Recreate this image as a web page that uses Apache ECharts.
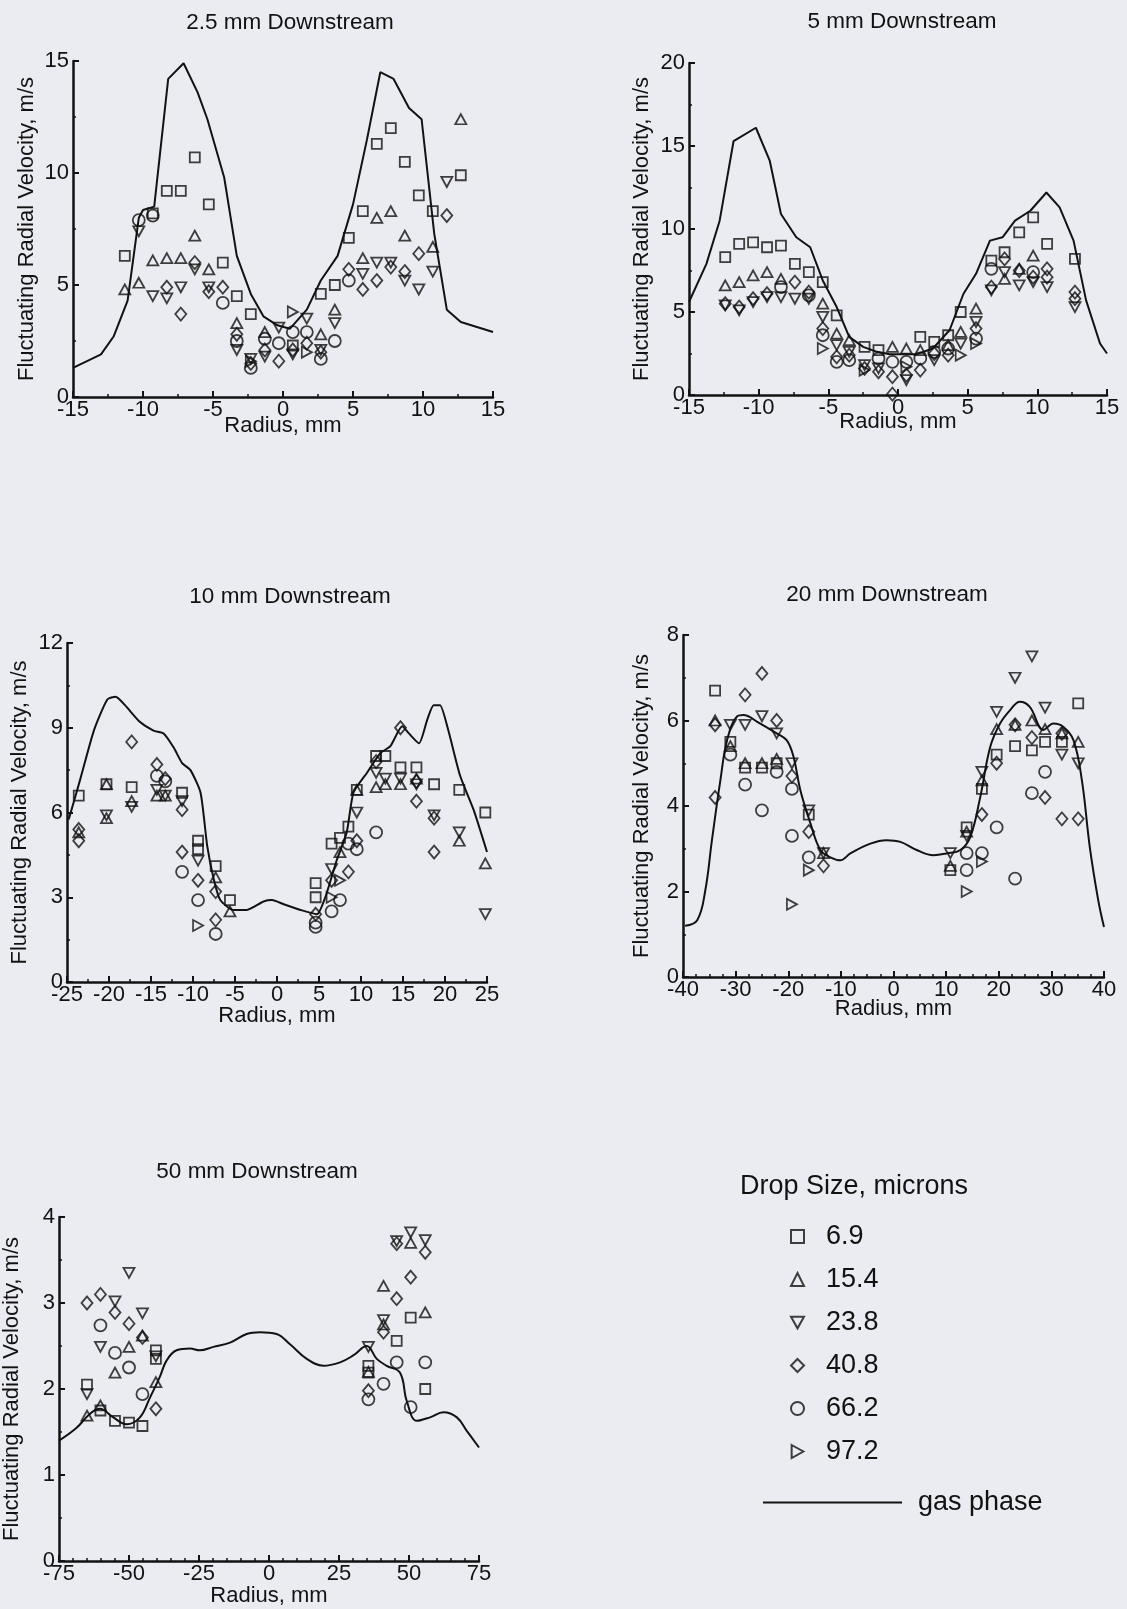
<!DOCTYPE html>
<html>
<head>
<meta charset="utf-8">
<script src="https://cdn.jsdelivr.net/npm/echarts@6/dist/echarts.min.js"></script>
<style>
  html, body { margin: 0; padding: 0; background: #ebecf1; }
  #chart { width: 1127px; height: 1609px; }
</style>
</head>
<body>
<div id="chart"></div>
<script>
// Drop-size classes (microns) shown in the legend
const dropSizes = ['6.9', '15.4', '23.8', '40.8', '66.2', '97.2'];

// ---- 2.5 mm downstream: [radius mm, fluctuating radial velocity m/s]
const p1Gas = [[-15,1.3],[-13,1.9],[-12.1,2.7],[-11.1,4.3],[-10.3,8.0],[-10,8.35],[-9.2,8.5],[-8.2,14.2],[-7.1,14.9],[-6.1,13.6],[-5.4,12.4],[-4.2,9.8],[-3.3,6.3],[-2.3,4.6],[-1.4,3.6],[-0.4,3.2],[0.5,3.05],[1.7,3.9],[2.7,5.2],[3.9,6.3],[5.0,8.6],[6.0,11.5],[6.95,14.5],[7.9,14.2],[9.0,12.9],[9.9,12.4],[10.8,7.3],[11.7,3.9],[12.7,3.35],[15,2.9]];
const p1Sq = [[-11.3,6.3],[-9.3,8.2],[-8.3,9.2],[-7.3,9.2],[-6.3,10.7],[-5.3,8.6],[-4.3,6.0],[-3.3,4.5],[-2.3,3.7],[0.7,2.3],[2.7,4.6],[3.7,5.0],[4.7,7.1],[5.7,8.3],[6.7,11.3],[7.7,12.0],[8.7,10.5],[9.7,9.0],[10.7,8.3],[12.7,9.9]];
const p1Up = [[-11.3,4.8],[-10.3,5.1],[-9.3,6.1],[-8.3,6.2],[-7.3,6.2],[-6.3,7.2],[-5.3,5.7],[-3.3,3.3],[-1.3,2.9],[2.7,2.8],[3.7,3.9],[5.7,6.2],[6.7,8.0],[7.7,8.3],[8.7,7.2],[10.7,6.7],[12.7,12.4]];
const p1Down = [[-10.3,7.4],[-9.3,4.5],[-8.3,4.4],[-7.3,4.9],[-6.3,5.7],[-5.3,4.9],[-3.3,2.1],[-2.3,1.7],[-1.3,1.8],[-0.3,3.1],[0.7,1.9],[1.7,3.5],[2.7,2.1],[3.7,3.3],[5.7,5.5],[6.7,6.0],[7.7,6.0],[8.7,5.2],[9.7,4.8],[10.7,5.6],[11.7,9.6]];
const p1Diamond = [[-8.3,4.9],[-7.3,3.7],[-6.3,6.0],[-5.3,4.7],[-4.3,4.9],[-3.3,2.8],[-2.3,1.5],[-1.3,2.1],[-0.3,1.6],[0.7,2.1],[1.7,2.4],[2.7,2.0],[4.7,5.7],[5.7,4.8],[6.7,5.2],[7.7,5.8],[8.7,5.6],[9.7,6.4],[11.7,8.1]];
const p1Circle = [[-10.3,7.9],[-9.3,8.1],[-4.3,4.2],[-3.3,2.5],[-2.3,1.3],[-1.3,2.6],[-0.3,2.4],[0.7,2.9],[1.7,2.9],[2.7,1.7],[3.7,2.5],[4.7,5.2]];
const p1Right = [[0.7,3.8],[-2.3,1.6],[1.7,2.0]];

// ---- 5 mm downstream
const p2Gas = [[-15,5.6],[-13.75,7.9],[-12.8,10.5],[-11.8,15.3],[-10.2,16.1],[-9.2,14.1],[-8.4,10.9],[-7.3,9.5],[-6.3,8.9],[-5.4,6.9],[-4.4,5.3],[-3.5,3.5],[-2.5,2.9],[-1.5,2.6],[-0.6,2.45],[1.3,2.45],[2.5,2.8],[3.7,3.9],[4.7,6.1],[5.6,7.3],[6.6,9.3],[7.5,9.5],[8.4,10.5],[9.5,11.1],[10.65,12.2],[11.6,11.3],[12.6,9.3],[13.5,5.7],[14.5,3.1],[15,2.5]];
const p2Sq = [[-12.4,8.3],[-11.4,9.1],[-10.4,9.2],[-9.4,8.9],[-8.4,9.0],[-7.4,7.9],[-6.4,7.4],[-5.4,6.8],[-4.4,4.8],[-2.4,2.9],[-1.4,2.7],[1.6,3.5],[2.6,3.2],[3.6,3.6],[4.5,5.0],[6.7,8.1],[7.65,8.6],[8.7,9.8],[9.7,10.7],[10.7,9.1],[12.7,8.2]];
const p2Up = [[-12.4,6.6],[-11.4,6.8],[-10.4,7.2],[-9.4,7.4],[-8.4,7.0],[-5.4,5.5],[-4.4,3.7],[-3.5,3.3],[-0.4,2.9],[0.6,2.8],[1.6,2.7],[3.6,3.0],[4.5,3.8],[5.6,5.2],[7.65,7.0],[8.7,7.6],[9.7,8.4]];
const p2Down = [[-12.4,5.4],[-11.4,5.1],[-10.4,5.6],[-9.4,5.9],[-8.4,5.9],[-7.4,5.8],[-6.4,5.8],[-5.4,4.7],[-4.4,3.0],[-3.5,2.6],[-2.4,1.8],[-1.4,1.6],[0.6,0.9],[2.6,2.1],[4.5,3.1],[5.6,4.4],[6.7,6.3],[7.65,7.4],[8.7,6.6],[9.7,6.8],[10.7,6.5],[12.7,5.3]];
const p2Diamond = [[-12.4,5.5],[-11.4,5.3],[-10.4,5.8],[-9.4,6.1],[-7.4,6.8],[-6.4,6.2],[-5.4,4.0],[-4.4,2.3],[-3.5,2.4],[-2.4,1.6],[-1.4,1.4],[-0.4,1.1],[-0.4,0.05],[0.6,1.2],[1.6,1.5],[2.6,2.5],[3.6,2.4],[5.6,4.0],[6.7,6.5],[7.65,8.2],[8.7,7.5],[9.7,7.1],[10.7,7.6],[10.7,7.1],[12.7,6.2],[12.7,5.8]];
const p2Circle = [[-8.4,6.5],[-6.4,6.0],[-5.4,3.6],[-4.4,2.0],[-3.5,2.1],[-1.4,2.2],[-0.4,2.0],[0.6,2.0],[1.6,2.2],[2.6,2.6],[3.6,2.8],[5.6,3.4],[6.7,7.6],[9.7,7.4]];
const p2Right = [[-5.4,2.8],[-2.4,1.5],[0.6,1.7],[4.5,2.4],[5.6,3.1]];

// ---- 10 mm downstream
const p3Gas = [[-24.8,5.75],[-23.4,7.2],[-21.8,8.9],[-20.2,10.0],[-19.2,10.1],[-18.1,9.8],[-16.3,9.2],[-14.7,8.9],[-13.5,8.8],[-12.3,8.3],[-11.3,7.75],[-10.3,7.5],[-9.1,6.7],[-8.3,4.8],[-7.5,3.6],[-6.75,2.9],[-5.2,2.55],[-3.6,2.55],[-1.6,2.85],[-0.6,2.9],[0.8,2.75],[2.8,2.55],[4.75,2.4],[5.75,3.0],[7.1,4.3],[8.3,5.3],[9.1,6.7],[10.7,7.4],[12.3,8.1],[13.5,8.35],[14.9,9.05],[15.7,8.8],[16.9,8.45],[17.9,9.3],[18.65,9.8],[19.4,9.8],[20.4,8.9],[21.8,7.3],[23.4,6.1],[25,4.6]];
const p3Sq = [[-23.6,6.6],[-20.3,7.0],[-17.3,6.9],[-11.3,6.7],[-9.4,5.0],[-9.4,4.7],[-7.3,4.1],[-5.6,2.9],[4.6,3.5],[4.6,3.0],[6.5,4.9],[7.5,5.1],[8.5,5.5],[9.5,6.8],[11.8,8.0],[12.9,8.0],[14.7,7.6],[16.6,7.6],[18.7,7.0],[21.7,6.8],[24.8,6.0]];
const p3Up = [[-23.6,5.3],[-20.3,7.0],[-20.3,5.8],[-17.3,6.4],[-14.3,6.6],[-13.3,6.6],[-7.3,3.7],[-5.6,2.5],[7.5,4.6],[9.5,6.8],[11.8,6.9],[12.9,7.0],[14.7,7.0],[16.6,7.2],[21.7,5.0],[24.8,4.2]];
const p3Down = [[-20.3,5.9],[-17.3,6.2],[-14.3,6.8],[-13.3,6.6],[-11.3,6.4],[-9.4,4.3],[6.5,4.0],[9.5,6.0],[11.8,7.4],[12.9,7.2],[14.7,7.2],[16.6,7.0],[18.7,5.9],[21.7,5.3],[24.8,2.4]];
const p3Diamond = [[-23.6,5.4],[-23.6,5.0],[-17.3,8.5],[-14.3,7.7],[-13.3,7.2],[-11.3,6.1],[-11.3,4.6],[-9.4,3.6],[-7.3,3.2],[-7.3,2.2],[4.6,2.4],[6.5,3.6],[8.5,3.9],[9.5,5.0],[11.8,7.8],[14.7,9.0],[16.6,7.1],[16.6,6.4],[18.7,5.8],[18.7,4.6]];
const p3Circle = [[-14.3,7.3],[-13.3,7.1],[-11.3,3.9],[-9.4,2.9],[-7.3,1.7],[4.6,2.1],[4.6,1.95],[6.5,2.5],[7.5,2.9],[8.5,4.9],[9.5,4.7],[11.8,5.3]];
const p3Right = [[-9.4,2.0],[6.5,3.0],[7.5,3.6]];

// ---- 20 mm downstream
const p4Gas = [[-39.6,1.2],[-37.3,1.33],[-35.8,2.0],[-34.5,3.2],[-32.9,4.6],[-31.6,5.55],[-29.7,6.1],[-28.5,6.13],[-25.9,5.97],[-22.2,5.7],[-20.3,5.54],[-19,5.15],[-17.7,4.37],[-15.8,3.6],[-13.9,2.97],[-12,2.8],[-10.1,2.73],[-8.2,2.89],[-4.4,3.12],[-1.3,3.2],[1.3,3.16],[4.4,2.97],[7.6,2.85],[10.1,2.89],[12.7,2.97],[14.6,3.28],[16.5,4.22],[18.4,5.39],[20.25,5.93],[22.2,6.25],[24,6.44],[25.9,6.32],[28.5,5.78],[30.4,5.93],[32.3,5.85],[34.2,5.54],[35.8,4.6],[37.3,3.04],[38.9,1.8],[40,1.17]];
const p4Sq = [[-33.9,6.7],[-31,5.5],[-28.2,4.9],[-25,4.9],[-22.2,5.0],[-16.1,3.8],[10.8,2.5],[13.9,3.5],[16.8,4.4],[19.6,5.2],[23.1,5.4],[26.3,5.3],[28.8,5.5],[32,5.5],[35.1,6.4]];
const p4Up = [[-33.9,6.0],[-31,5.4],[-28.2,5.0],[-25,5.0],[-22.2,5.1],[-13.3,2.9],[10.8,2.6],[13.9,3.4],[16.8,4.6],[19.6,5.8],[23.1,5.9],[26.3,6.0],[28.8,5.8],[32,5.7],[35.1,5.5]];
const p4Down = [[-31,5.9],[-28.2,5.9],[-25,6.1],[-22.2,5.7],[-19.3,5.0],[-16.1,3.9],[-13.3,2.9],[10.8,2.9],[13.9,3.3],[16.8,4.8],[19.6,6.2],[23.1,7.0],[26.3,7.5],[28.8,6.3],[32,5.2],[35.1,5.0]];
const p4Diamond = [[-33.9,5.9],[-33.9,4.2],[-28.2,6.6],[-25,7.1],[-22.2,6.0],[-19.3,4.7],[-16.1,3.4],[-13.3,2.6],[16.8,3.8],[19.6,5.0],[23.1,5.9],[26.3,5.6],[28.8,4.2],[32,5.7],[32,3.7],[35.1,3.7]];
const p4Circle = [[-31,5.2],[-28.2,4.5],[-25,3.9],[-22.2,4.8],[-19.3,4.4],[-19.3,3.3],[-16.1,2.8],[13.9,2.9],[13.9,2.5],[16.8,2.9],[19.6,3.5],[23.1,2.3],[26.3,4.3],[28.8,4.8]];
const p4Right = [[-19.3,1.7],[-16.1,2.5],[13.9,2.0],[16.8,2.7]];

// ---- 50 mm downstream
const p5Gas = [[-75,1.4],[-68.7,1.55],[-64,1.71],[-60.4,1.77],[-55.6,1.67],[-50.9,1.59],[-46.1,1.67],[-42.5,1.9],[-39,2.14],[-36.6,2.33],[-33,2.45],[-28.2,2.47],[-24.7,2.45],[-19.9,2.49],[-13.9,2.54],[-8,2.64],[-3.2,2.66],[2.7,2.64],[7.5,2.52],[13.5,2.35],[19.4,2.27],[25.4,2.31],[30.1,2.39],[34.9,2.5],[38.5,2.35],[42,2.27],[46.8,2.19],[49.2,1.86],[52.8,1.63],[57.5,1.67],[62.3,1.73],[67.1,1.67],[70.7,1.51],[75,1.32]];
const p5Sq = [[-65,2.05],[-60.2,1.75],[-55,1.63],[-50,1.61],[-45.2,1.57],[-40.4,2.45],[-40.4,2.35],[35.5,2.27],[35.5,2.19],[45.6,2.56],[50.6,2.83],[55.8,2.0]];
const p5Up = [[-65,1.69],[-60.2,1.81],[-55,2.19],[-50,2.49],[-45.2,2.62],[-40.4,2.08],[35.5,2.2],[40.9,3.2],[40.9,2.75],[50.6,3.7],[55.8,2.89]];
const p5Down = [[-65,1.94],[-60.2,2.49],[-55,3.02],[-50,3.35],[-45.2,2.88],[-40.4,2.38],[35.5,2.49],[40.9,2.8],[45.6,3.72],[50.6,3.82],[55.8,3.73]];
const p5Diamond = [[-65,3.0],[-60.2,3.1],[-55,2.89],[-50,2.76],[-45.2,2.6],[-40.4,1.77],[35.5,1.98],[40.9,2.66],[45.6,3.05],[45.6,3.69],[50.6,3.3],[55.8,3.59]];
const p5Circle = [[-60.2,2.74],[-55,2.42],[-50,2.25],[-45.2,1.94],[35.5,1.88],[40.9,2.06],[45.6,2.31],[50.6,1.79],[55.8,2.31]];
const p5Right = [];

// Axis ranges: [min, max, interval, minor split]
const p1X = [-15, 15, 5, 2], p1Y = [0, 15, 5, 2];
const p2X = [-15, 15, 5, 2], p2Y = [0, 20, 5, 2];
const p3X = [-25, 25, 5, 2], p3Y = [0, 12, 3, 2];
const p4X = [-40, 40, 10, 4], p4Y = [0, 8, 2, 2];
const p5X = [-75, 75, 25, 5], p5Y = [0, 4, 1, 2];

const titles = ['2.5 mm Downstream', '5 mm Downstream', '10 mm Downstream', '20 mm Downstream', '50 mm Downstream'];

const INK = '#121212';
const FONT = '"Liberation Sans", Arial, Helvetica, sans-serif';

const symbols = ['rect', 'triangle', 'path://M0,0L10,0L5,9Z', 'diamond', 'circle', 'path://M0,0L9,5L0,10Z'];
const symbolSizes = [[10, 10], [11, 10], [11, 10], [11, 13], 12, [10, 11]];

const panels = [
  { x: p1X, y: p1Y, gas: p1Gas, pts: [p1Sq, p1Up, p1Down, p1Diamond, p1Circle, p1Right], smooth: false,
    grid: { left: 73, top: 61, width: 420, height: 336 }, title: [290, 23], xGap: 18, yGap: 35 },
  { x: p2X, y: p2Y, gas: p2Gas, pts: [p2Sq, p2Up, p2Down, p2Diamond, p2Circle, p2Right], smooth: false,
    grid: { left: 689, top: 63, width: 418, height: 332 }, title: [902, 22], xGap: 16, yGap: 36 },
  { x: p3X, y: p3Y, gas: p3Gas, pts: [p3Sq, p3Up, p3Down, p3Diamond, p3Circle, p3Right], smooth: 0.2,
    grid: { left: 67, top: 643, width: 420, height: 339 }, title: [290, 597], xGap: 23, yGap: 36 },
  { x: p4X, y: p4Y, gas: p4Gas, pts: [p4Sq, p4Up, p4Down, p4Diamond, p4Circle, p4Right], smooth: 0.4,
    grid: { left: 683, top: 635, width: 421, height: 342 }, title: [887, 595], xGap: 21, yGap: 30 },
  { x: p5X, y: p5Y, gas: p5Gas, pts: [p5Sq, p5Up, p5Down, p5Diamond, p5Circle, p5Right], smooth: 0.4,
    grid: { left: 59, top: 1217, width: 420, height: 344 }, title: [257, 1172], xGap: 24, yGap: 36 }
];

function axisCommon(r) {
  return {
    type: 'value', min: r[0], max: r[1], interval: r[2],
    nameTextStyle: { fontSize: 22, color: INK, fontFamily: FONT },
    nameMoveOverlap: false,
    axisLine: { show: true, onZero: false, lineStyle: { color: INK, width: 2.5 } },
    axisTick: { show: true, inside: true, length: 6, lineStyle: { color: INK, width: 2 } },
    minorTick: { show: true, splitNumber: r[3], length: 3, lineStyle: { color: INK, width: 1.5 } },
    splitLine: { show: false }, minorSplitLine: { show: false },
    axisLabel: { color: INK, fontSize: 22, fontFamily: FONT, showMinLabel: true, showMaxLabel: true, hideOverlap: false }
  };
}

const grids = [], xAxes = [], yAxes = [], series = [], graphics = [];
panels.forEach((p, i) => {
  grids.push(Object.assign({ containLabel: false, outerBoundsMode: 'none' }, p.grid));
  const xa = axisCommon(p.x);
  Object.assign(xa, { gridIndex: i, name: 'Radius, mm', nameLocation: 'middle', nameGap: p.xGap });
  xa.axisLabel.margin = 2;
  xAxes.push(xa);
  const ya = axisCommon(p.y);
  Object.assign(ya, { gridIndex: i, name: 'Fluctuating Radial Velocity, m/s', nameLocation: 'middle', nameRotate: 90, nameGap: p.yGap });
  ya.axisLabel.margin = 4;
  yAxes.push(ya);

  series.push({
    type: 'line', name: 'gas phase', xAxisIndex: i, yAxisIndex: i, data: p.gas,
    smooth: p.smooth, symbol: 'none', showSymbol: false, silent: true, z: 2,
    lineStyle: { color: INK, width: 2 }, itemStyle: { color: INK }
  });
  p.pts.forEach((pts, k) => {
    series.push({
      type: 'scatter', name: dropSizes[k], xAxisIndex: i, yAxisIndex: i, data: pts,
      symbol: symbols[k], symbolSize: symbolSizes[k], silent: true, z: 3,
      itemStyle: { color: 'rgba(0,0,0,0)', borderColor: INK, borderWidth: 1.8 }
    });
  });

  graphics.push({
    type: 'text', x: p.title[0], y: p.title[1],
    style: { text: titles[i], fill: INK, font: '22.5px ' + FONT, textAlign: 'center', textVerticalAlign: 'middle' }
  });
});

graphics.push({
  type: 'text', x: 740, y: 1187,
  style: { text: 'Drop Size, microns', fill: INK, font: '27px ' + FONT, textAlign: 'left', textVerticalAlign: 'middle' }
});

const option = {
  backgroundColor: '#ebecf1',
  animation: false,
  textStyle: { fontFamily: FONT },
  grid: grids,
  xAxis: xAxes,
  yAxis: yAxes,
  series: series,
  graphic: graphics,
  legend: [
    {
      data: dropSizes, orient: 'vertical', left: 785, top: 1218,
      itemWidth: 13, itemHeight: 13, itemGap: 16, selectedMode: false,
      textStyle: { fontSize: 27, color: INK, fontFamily: FONT, padding: [0, 0, 0, 17] }
    },
    {
      data: [{ name: 'gas phase', icon: 'rect' }], orient: 'vertical', left: 758, top: 1484,
      itemWidth: 139, itemHeight: 2, selectedMode: false,
      textStyle: { fontSize: 27, color: INK, fontFamily: FONT, padding: [0, 0, 0, 11] }
    }
  ]
};

const chart = echarts.init(document.getElementById('chart'), null, { renderer: 'canvas' });
chart.setOption(option);
</script>
</body>
</html>
